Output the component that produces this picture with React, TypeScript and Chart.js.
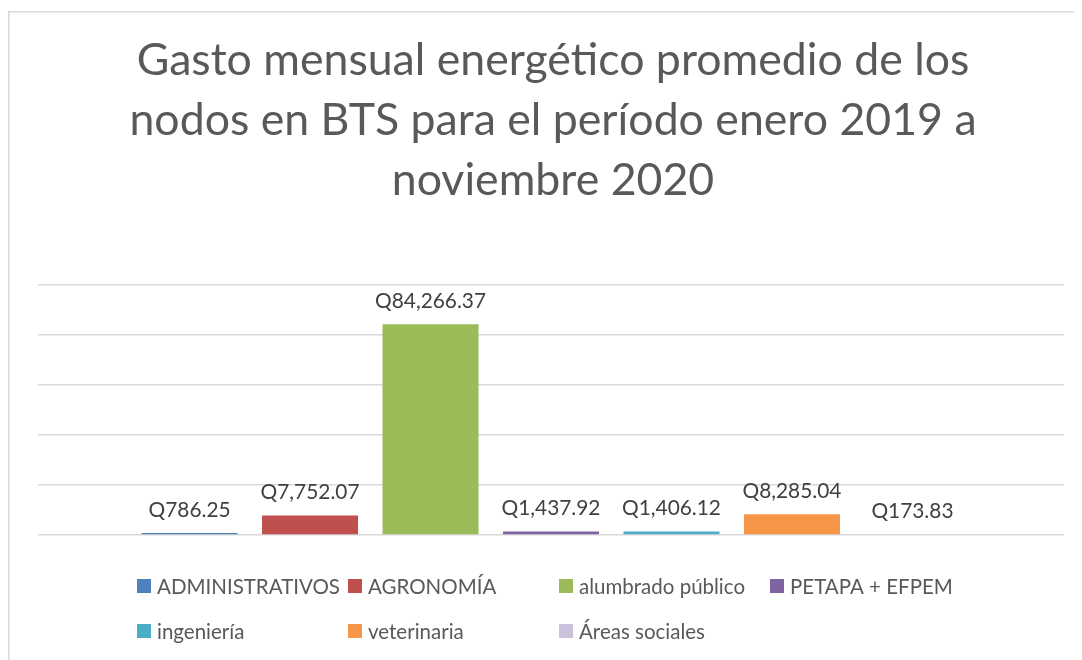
import React, { useEffect, useRef } from "react";
import { Chart, registerables } from "chart.js";

Chart.register(...registerables);

const titleLines = [
  "Gasto mensual energético promedio de los",
  "nodos en BTS para el período enero 2019 a",
  "noviembre 2020",
];
const categories = [""];
const seriesNames = [
  "ADMINISTRATIVOS",
  "AGRONOMÍA",
  "alumbrado público",
  "PETAPA + EFPEM",
  "ingeniería",
  "veterinaria",
  "Áreas sociales",
];
const seriesValues = [786.25, 7752.07, 84266.37, 1437.92, 1406.12, 8285.04, 173.83];
const seriesColors = ["#4f81bd", "#c0504d", "#9bbb59", "#8064a2", "#4bacc6", "#f79646", "#ccc1da"];
const yMin = 0;
const yMax = 100000;
const yStep = 20000;

const FONT = "Lato, 'Open Sans', sans-serif";

function fitSize(ctx: CanvasRenderingContext2D, text: string, target: number) {
  ctx.font = `100px ${FONT}`;
  const w = ctx.measureText(text).width;
  return (100 * target) / w;
}

function fmt(v: number) {
  return "Q" + v.toLocaleString("en-US", { minimumFractionDigits: 2, maximumFractionDigits: 2 });
}

const decorPlugin = {
  id: "decor",
  beforeDraw(chart: any) {
    const ctx = chart.ctx as CanvasRenderingContext2D;
    ctx.save();
    ctx.fillStyle = "#ffffff";
    ctx.fillRect(0, 0, chart.width, chart.height);
    ctx.strokeStyle = "#d9d9d9";
    ctx.lineWidth = 1.5;
    ctx.strokeRect(0.75, 3.75, 2000, 2000);
    ctx.restore();
  },
  afterDraw(chart: any) {
    const ctx = chart.ctx as CanvasRenderingContext2D;
    ctx.save();
    // Title
    const tSize = fitSize(ctx, titleLines[0], 833);
    ctx.font = `${tSize}px ${FONT}`;
    ctx.fillStyle = "#595959";
    ctx.textAlign = "center";
    ctx.textBaseline = "alphabetic";
    const tBase = [67, 127, 187];
    titleLines.forEach((l, i) => ctx.fillText(l, 545, tBase[i]));

    // Data labels
    const lSize = fitSize(ctx, fmt(seriesValues[2]), 111);
    ctx.font = `${lSize}px ${FONT}`;
    ctx.fillStyle = "#404040";
    ctx.textBaseline = "middle";
    chart.data.datasets.forEach((ds: any, i: number) => {
      const meta = chart.getDatasetMeta(i);
      meta.data.forEach((el: any, j: number) => {
        ctx.fillText(fmt(ds.data[j]), el.x, el.y - 23);
      });
    });

    // Legend
    const gSize = fitSize(ctx, seriesNames[0], 183);
    ctx.font = `${gSize}px ${FONT}`;
    ctx.fillStyle = "#595959";
    ctx.textAlign = "left";
    const colX = [129, 340, 551, 762];
    const rowY = [578, 623];
    seriesNames.forEach((name, i) => {
      const c = i % 4;
      const r = Math.floor(i / 4);
      const x = colX[c];
      const y = rowY[r];
      ctx.fillStyle = seriesColors[i];
      ctx.fillRect(x, y - 7, 14, 14);
      ctx.fillStyle = "#595959";
      ctx.fillText(name, x + 20, y + 1);
    });
    ctx.restore();
  },
};

export default function App() {
  const ref = useRef<HTMLCanvasElement | null>(null);
  useEffect(() => {
    if (!ref.current) return;
    const chart = new Chart(ref.current, {
      type: "bar",
      data: {
        labels: categories,
        datasets: seriesNames.map((n, i) => ({
          label: n,
          data: [seriesValues[i]],
          backgroundColor: seriesColors[i],
          borderWidth: 0,
          categoryPercentage: 0.822,
          barPercentage: 0.797,
        })),
      },
      options: {
        responsive: false,
        animation: false,
        devicePixelRatio: 1,
        layout: { padding: { left: 30, right: 18, top: 277, bottom: 125 } },
        plugins: {
          legend: { display: false },
          title: { display: false },
          tooltip: { enabled: false },
        },
        scales: {
          x: { display: false },
          y: {
            min: yMin,
            max: yMax,
            ticks: { display: false, stepSize: yStep },
            grid: { color: "#d9d9d9", lineWidth: 1.5, drawTicks: false },
            border: { display: false },
            afterFit: (s: any) => {
              s.width = 0;
            },
          },
        },
      } as any,
      plugins: [decorPlugin],
    });
    return () => chart.destroy();
  }, []);
  return <canvas ref={ref} width={1074} height={652} style={{ display: "block" }} />;
}
